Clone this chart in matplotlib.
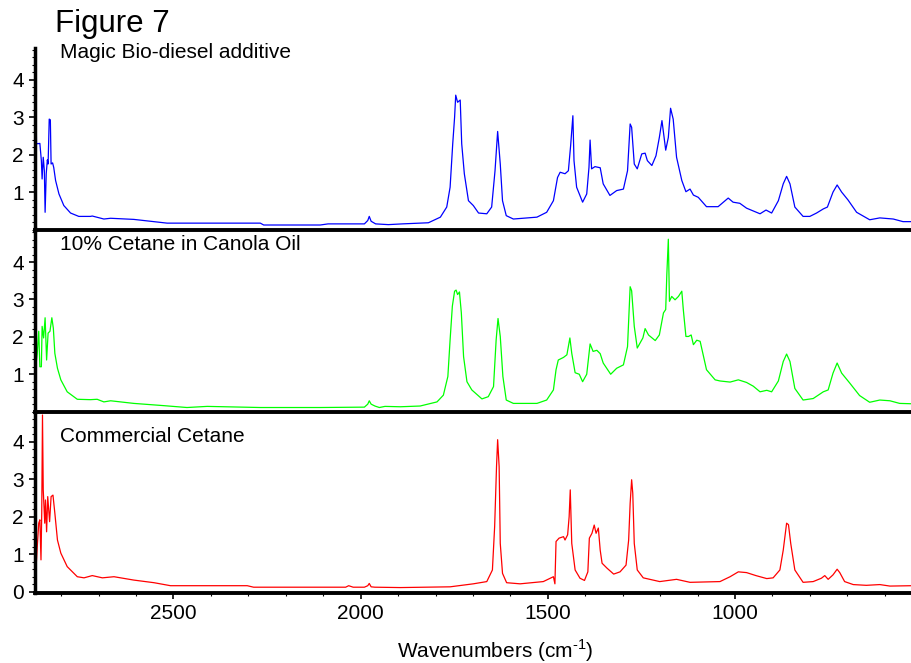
import numpy as np
import matplotlib
matplotlib.use("Agg")
import matplotlib.pyplot as plt
from matplotlib.ticker import MultipleLocator, FixedLocator

plt.rcParams['font.family'] = ['Liberation Sans', 'DejaVu Sans']
plt.rcParams['mathtext.fontset'] = 'custom'
plt.rcParams['mathtext.rm'] = 'Liberation Sans'

# spectra: wavenumber (cm-1) and absorbance
blue_wn = [2867, 2866, 2857, 2853, 2851, 2848, 2845, 2843, 2840, 2837, 2835, 2832, 2829, 2827,
           2823, 2820, 2815, 2806, 2793, 2775, 2753, 2722, 2717, 2686, 2668, 2606, 2517, 2268,
           2259, 2108, 2087, 1990, 1981, 1977, 1972, 1960, 1926, 1889, 1819, 1787, 1770, 1761,
           1754, 1749, 1746, 1741, 1734, 1730, 1723, 1712, 1699, 1685, 1663, 1650, 1641, 1634,
           1627, 1621, 1611, 1592, 1529, 1503, 1485, 1474, 1467, 1454, 1445, 1439, 1433, 1430,
           1423, 1407, 1396, 1390, 1387, 1383, 1374, 1360, 1352, 1334, 1316, 1298, 1287, 1280,
           1276, 1269, 1261, 1249, 1240, 1234, 1222, 1211, 1202, 1195, 1185, 1178, 1172, 1165,
           1156, 1142, 1131, 1120, 1111, 1098, 1076, 1045, 1018, 1005, 987, 969, 933, 917, 902,
           884, 871, 862, 853, 840, 818, 800, 782, 764, 753, 738, 727, 715, 698, 675, 640, 613,
           577, 551, 527]
blue_abs = [3.04, 2.29, 2.30, 1.84, 1.35, 1.93, 1.57, 0.46, 1.49, 1.86, 1.75, 2.95, 2.93, 1.75,
            1.78, 1.66, 1.31, 0.95, 0.64, 0.44, 0.35, 0.35, 0.36, 0.28, 0.30, 0.27, 0.17, 0.17,
            0.12, 0.12, 0.15, 0.15, 0.24, 0.35, 0.22, 0.15, 0.13, 0.15, 0.18, 0.33, 0.60, 1.13,
            2.29, 3.00, 3.59, 3.40, 3.46, 2.29, 1.49, 0.77, 0.64, 0.44, 0.42, 0.60, 1.57, 2.62,
            1.75, 0.77, 0.37, 0.28, 0.33, 0.46, 0.77, 1.39, 1.53, 1.49, 1.57, 2.24, 3.04, 1.84,
            1.13, 0.73, 0.95, 1.66, 2.39, 1.62, 1.68, 1.65, 1.22, 0.91, 1.04, 1.08, 1.57, 2.82,
            2.73, 1.75, 1.62, 2.02, 2.04, 1.84, 1.71, 1.97, 2.46, 2.91, 2.12, 2.46, 3.24, 2.95,
            1.93, 1.31, 1.01, 1.08, 0.92, 0.86, 0.61, 0.61, 0.84, 0.73, 0.70, 0.57, 0.42, 0.52, 0.44,
            0.77, 1.22, 1.42, 1.22, 0.60, 0.35, 0.35, 0.44, 0.55, 0.60, 1.00, 1.19, 1.00, 0.79,
            0.46, 0.26, 0.31, 0.28, 0.21, 0.21]

green_wn = [2866, 2864, 2860, 2857, 2853, 2851, 2847, 2843, 2839, 2835, 2830, 2825, 2821, 2817,
            2810, 2801, 2784, 2757, 2722, 2704, 2686, 2668, 2606, 2526, 2464, 2410, 2268, 2108,
            1990, 1981, 1977, 1972, 1962, 1950, 1935, 1894, 1841, 1796, 1779, 1767, 1761, 1755,
            1749, 1745, 1741, 1736, 1731, 1725, 1716, 1703, 1676, 1659, 1645, 1638, 1633, 1627,
            1620, 1611, 1592, 1529, 1503, 1485, 1478, 1472, 1458, 1449, 1441, 1436, 1427, 1416,
            1407, 1396, 1387, 1379, 1369, 1360, 1352, 1332, 1316, 1298, 1287, 1280, 1276, 1269,
            1261, 1246, 1240, 1231, 1213, 1202, 1191, 1185, 1182, 1178, 1175, 1169, 1160, 1151,
            1142, 1138, 1131, 1124, 1117, 1111, 1102, 1093, 1076, 1053, 1040, 1013, 991, 969, 951,
            933, 915, 902, 884, 871, 862, 853, 840, 818, 791, 764, 751, 738, 727, 715, 693, 667,
            640, 613, 586, 560, 527]
green_abs = [1.38, 1.56, 2.15, 1.20, 1.20, 2.28, 1.97, 2.51, 1.38, 2.10, 2.15, 2.51, 2.23, 1.56,
             1.16, 0.85, 0.53, 0.33, 0.32, 0.33, 0.26, 0.29, 0.22, 0.16, 0.11, 0.14, 0.11, 0.11,
             0.12, 0.20, 0.29, 0.20, 0.15, 0.11, 0.14, 0.13, 0.15, 0.26, 0.44, 0.94, 1.92, 2.82,
             3.22, 3.25, 3.13, 3.20, 2.64, 1.47, 0.80, 0.58, 0.34, 0.40, 0.67, 1.92, 2.49, 2.01,
             0.94, 0.31, 0.22, 0.22, 0.31, 0.58, 1.12, 1.38, 1.45, 1.52, 1.97, 1.56, 1.04, 1.00,
             0.80, 1.00, 1.81, 1.61, 1.64, 1.55, 1.30, 1.00, 1.16, 1.25, 1.74, 3.34, 3.23, 2.28,
             1.70, 1.97, 2.22, 2.05, 1.90, 2.05, 2.64, 2.73, 3.67, 4.61, 2.95, 3.08, 2.99, 3.08,
             3.22, 2.73, 2.01, 2.01, 2.05, 1.79, 1.91, 1.88, 1.12, 0.85, 0.82, 0.79, 0.85, 0.78, 0.68,
             0.53, 0.57, 0.53, 0.82, 1.34, 1.54, 1.34, 0.62, 0.31, 0.35, 0.53, 0.58, 1.03, 1.30,
             1.03, 0.76, 0.43, 0.25, 0.31, 0.29, 0.22, 0.21]

red_wn = [2867, 2864, 2860, 2857, 2854, 2852, 2850, 2848, 2844, 2842, 2839, 2836, 2831, 2827,
          2822, 2817, 2810, 2801, 2784, 2757, 2739, 2717, 2690, 2659, 2606, 2552, 2508, 2303,
          2286, 2126, 2040, 2032, 2020, 1990, 1981, 1977, 1972, 1962, 1894, 1761, 1699, 1663,
          1648, 1642, 1637, 1634, 1630, 1627, 1621, 1610, 1574, 1512, 1485, 1481, 1478, 1470,
          1458, 1454, 1447, 1443, 1440, 1436, 1427, 1414, 1402, 1393, 1389, 1382, 1376, 1371,
          1365, 1360, 1355, 1342, 1324, 1307, 1291, 1284, 1280, 1276, 1273, 1269, 1261, 1245,
          1201, 1156, 1120, 1040, 1013, 991, 969, 944, 915, 898, 880, 871, 862, 857, 851, 840,
          818, 791, 769, 760, 751, 738, 727, 720, 707, 684, 649, 613, 586, 527]
red_abs = [0.67, 1.20, 1.83, 1.92, 0.85, 2.10, 4.72, 2.72, 1.83, 2.45, 1.60, 2.54, 1.87, 2.54,
           2.58, 2.10, 1.38, 1.03, 0.67, 0.40, 0.37, 0.43, 0.37, 0.40, 0.31, 0.24, 0.16, 0.16,
           0.12, 0.12, 0.12, 0.16, 0.12, 0.12, 0.16, 0.22, 0.13, 0.12, 0.11, 0.13, 0.21, 0.27,
           0.58, 1.74, 3.34, 4.06, 3.34, 1.29, 0.49, 0.24, 0.21, 0.27, 0.40, 0.21, 1.34, 1.43,
           1.47, 1.38, 1.52, 2.00, 2.72, 1.29, 0.58, 0.36, 0.30, 0.53, 1.43, 1.56, 1.78, 1.56,
           1.70, 1.11, 0.76, 0.63, 0.47, 0.53, 0.71, 1.38, 2.36, 2.99, 2.63, 1.29, 0.58, 0.37,
           0.27, 0.33, 0.25, 0.27, 0.40, 0.53, 0.51, 0.43, 0.35, 0.37, 0.58, 1.11, 1.83, 1.79,
           1.29, 0.58, 0.25, 0.27, 0.36, 0.43, 0.33, 0.45, 0.60, 0.51, 0.27, 0.19, 0.17, 0.19,
           0.15, 0.16]

titles = ['Magic Bio-diesel additive', '10% Cetane in Canola Oil', 'Commercial Cetane']
colors = ['#0000ff', '#00ff00', '#ff0000']
x_ticks = [2500, 2000, 1500, 1000]

W, H = 912, 663
fig = plt.figure(figsize=(W / 100, H / 100), dpi=100)

# panel edges in pixels (top, bottom)
panels = [(48, 229.5), (229.5, 412), (412, 593)]
ylims = [(0, 4.85), (-0.01, 4.87), (-0.035, 4.80)]
title_y = [0.945, 0.888, 0.834]
series = [(blue_wn, blue_abs), (green_wn, green_abs), (red_wn, red_abs)]

for i, (top, bot) in enumerate(panels):
    ax = fig.add_axes([35 / W, 1 - bot / H, 1 - 35 / W, (bot - top) / H])
    wn, ab = series[i]
    ax.plot(wn, ab, color=colors[i], lw=0.9)
    ax.set_xlim(2870, 527)
    ax.set_ylim(*ylims[i])
    for s in ['top', 'right']:
        ax.spines[s].set_visible(False)
    ax.spines['left'].set_linewidth(2.5)
    ax.spines['bottom'].set_linewidth(2.8)
    ax.yaxis.set_major_locator(FixedLocator([0, 1, 2, 3, 4] if i == 2 else [1, 2, 3, 4]))
    ax.yaxis.set_minor_locator(MultipleLocator(0.2))
    ax.tick_params(axis='y', which='major', direction='out', length=4, width=1.2,
                   labelsize=15, pad=4)
    ax.tick_params(axis='y', which='minor', direction='out', length=2, width=0.8)
    ax.text(0.0285, title_y[i], titles[i], transform=ax.transAxes, fontsize=15,
            ha='left', va='baseline')
    if i == 2:
        ax.xaxis.set_major_locator(FixedLocator(x_ticks))
        ax.xaxis.set_minor_locator(MultipleLocator(100))
        ax.tick_params(axis='x', which='major', direction='out', length=4, width=1.2,
                       labelsize=15, pad=4)
        ax.tick_params(axis='x', which='minor', direction='out', length=2, width=0.8)
    else:
        ax.set_xticks([])
        ax.xaxis.set_minor_locator(FixedLocator([]))
    ax.patch.set_alpha(0)

fig.text(55 / W, 1 - 32 / H, 'Figure 7', fontsize=22.5, ha='left', va='baseline')
fig.text(495 / W, 1 - 658 / H, 'Wavenumbers (cm$^{\\text{-1}}$)', fontsize=15,
         ha='center', va='baseline')

fig.savefig('out.png', dpi=100)
